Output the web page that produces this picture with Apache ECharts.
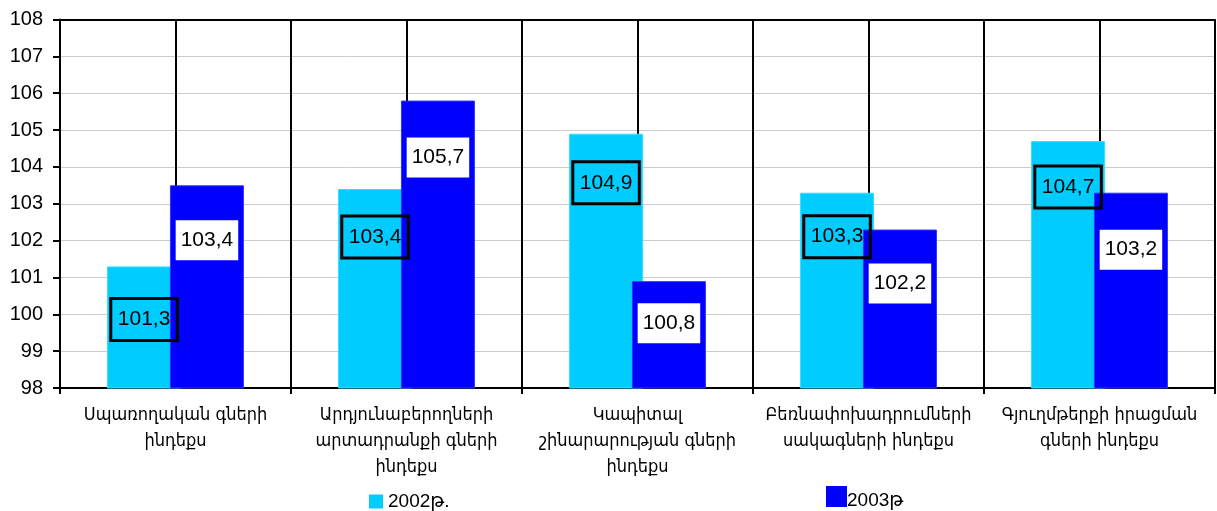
<!DOCTYPE html>
<html>
<head>
<meta charset="utf-8">
<script src="https://cdn.jsdelivr.net/npm/echarts@6/dist/echarts.min.js"></script>
<style>
html,body{margin:0;padding:0;background:#fff;}
#chart{width:1217px;height:511px;}
</style>
</head>
<body>
<div id="chart"></div>
<script>
// ---- data ----
var categories = [
  'Սպառողական գների\nինդեքս',
  'Արդյունաբերողների\nարտադրանքի գների\nինդեքս',
  'Կապիտալ\nշինարարության գների\nինդեքս',
  'Բեռնափոխադրումների\nսակագների ինդեքս',
  'Գյուղմթերքի իրացման\nգների ինդեքս'
];
var seriesNames = ['2002թ.', '2003թ'];
var values2002 = [101.3, 103.4, 104.9, 103.3, 104.7];
var values2003 = [103.5, 105.8, 100.9, 102.3, 103.3];
var labels2002 = [101.3, 103.4, 104.9, 103.3, 104.7];
var labels2003 = [103.4, 105.7, 100.8, 102.2, 103.2];
var yTicks = [98, 99, 100, 101, 102, 103, 104, 105, 106, 107, 108];

// label offsets (style, kept apart from data)
var labelDist2002 = [32, 27, 28, 23, 25];
var labelDist2003 = [35, 37, 22, 34, 37];

function fmt(v){ return v.toFixed(1).replace('.', ','); }

var FONT = '"Liberation Sans", Arial, "DejaVu Sans", sans-serif';
var ARM = '"DejaVu Sans Condensed", "DejaVu Sans", sans-serif';

var chart = echarts.init(document.getElementById('chart'));
chart.setOption({
  animation: false,
  textStyle: { fontFamily: FONT },
  grid: { left: 60, right: 2, top: 19.5, bottom: 123, containLabel: false },
  legend: [
    {
      data: [seriesNames[0]], left: 369, top: 492, padding: 0,
      itemWidth: 14, itemHeight: 14, icon: 'rect',
      itemStyle: { borderWidth: 0 },
      textStyle: { fontSize: 19, color: '#000', fontFamily: FONT }
    },
    {
      data: [seriesNames[1]], left: 826, top: 486, padding: 0,
      itemWidth: 21, itemHeight: 21, icon: 'rect',
      itemStyle: { borderWidth: 0 },
      formatter: function (name) { return '{t|' + name + '}'; },
      textStyle: {
        fontSize: 19, color: '#000', fontFamily: FONT, padding: [0, 0, 0, -5],
        rich: { t: { fontSize: 19, color: '#000', fontFamily: FONT, padding: [8, 0, 0, 0] } }
      }
    }
  ],
  xAxis: [
    {
      type: 'category',
      data: categories,
      axisLine: { lineStyle: { color: '#000', width: 2 } },
      axisTick: { show: true, length: 6, inside: false, lineStyle: { color: '#000', width: 2 } },
      axisLabel: { interval: 0, fontSize: 18, lineHeight: 26, color: '#000', margin: 14, fontFamily: ARM },
      splitLine: { show: false }
    },
    {
      type: 'value', position: 'top', min: 0, max: 5, interval: 0.5,
      axisLine: { show: true, lineStyle: { color: '#000', width: 2 } },
      axisTick: { show: false },
      axisLabel: { show: false },
      splitLine: { show: true, lineStyle: { color: '#000', width: 2 } }
    }
  ],
  yAxis: {
    type: 'value', min: yTicks[0], max: yTicks[yTicks.length - 1], interval: 1,
    axisLine: { show: true, lineStyle: { color: '#000', width: 2 } },
    axisTick: { show: true, length: 7, lineStyle: { color: '#000', width: 2 } },
    axisLabel: { fontSize: 20, color: '#000', margin: 17, fontFamily: FONT },
    splitLine: { show: true, lineStyle: { color: '#cccccc', width: 1 } }
  },
  series: [
    {
      name: seriesNames[0], type: 'bar', xAxisIndex: 0,
      barWidth: 74, barGap: '-15%',
      itemStyle: { color: '#00CCFF', borderColor: '#33E0FF', borderWidth: 1 },
      data: values2002.map(function (v, i) {
        return { value: v, label: { distance: labelDist2002[i] } };
      }),
      label: {
        show: true, position: 'insideTop',
        formatter: function (p) { return fmt(labels2002[p.dataIndex]); },
        fontSize: 21, lineHeight: 24, color: '#000', fontFamily: FONT,
        borderColor: '#000', borderWidth: 1.5, padding: [9, 7],
        backgroundColor: 'transparent'
      }
    },
    {
      name: seriesNames[1], type: 'bar', xAxisIndex: 0,
      barWidth: 74, barGap: '-15%',
      itemStyle: { color: '#0000FF', borderColor: '#3333FF', borderWidth: 1 },
      data: values2003.map(function (v, i) {
        return { value: v, label: { distance: labelDist2003[i] } };
      }),
      label: {
        show: true, position: 'insideTop',
        formatter: function (p) { return fmt(labels2003[p.dataIndex]); },
        fontSize: 21, lineHeight: 24, color: '#000', fontFamily: FONT,
        backgroundColor: '#fff', padding: [8, 5]
      }
    }
  ]
});
</script>
</body>
</html>
